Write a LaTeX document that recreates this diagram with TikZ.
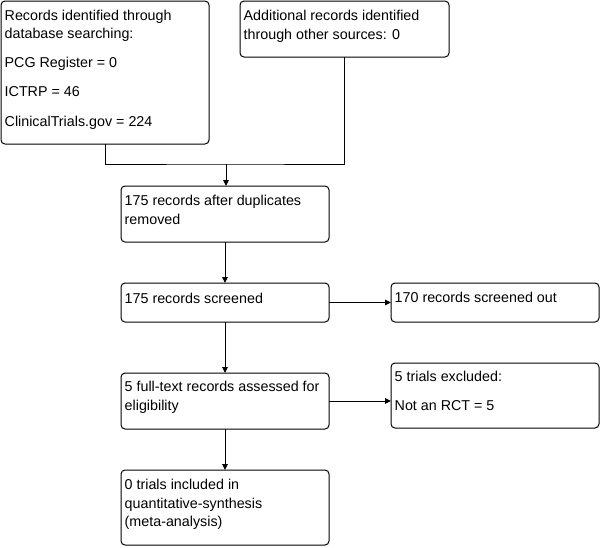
\documentclass[tikz,border=0pt]{standalone}
\usepackage{fontspec}
\setmainfont{Liberation Sans}
\usetikzlibrary{arrows.meta}
\begin{document}
\begin{tikzpicture}[x=1pt,y=-1pt,
  box/.style={draw, rounded corners=4pt, line width=1pt, inner sep=0pt, outer sep=0pt, anchor=north west},
  txt/.style={anchor=base west, inner sep=0pt, align=left, font=\fontsize{14.3}{18.6}\selectfont},
  arr/.style={-{Triangle[length=6pt,width=5.5pt]}, line width=1pt},
  ln/.style={line width=1pt}]
\useasboundingbox (0,0) rectangle (602,547);
% boxes
\node[box, minimum width=208pt, minimum height=143pt] (A) at (1,1) {};
\node[box, minimum width=209pt, minimum height=56pt] (B) at (240,1) {};
\node[box, minimum width=208pt, minimum height=56pt] (C) at (121,186) {};
\node[box, minimum width=208pt, minimum height=39pt] (D) at (121,283) {};
\node[box, minimum width=208pt, minimum height=39pt] (E) at (391,283) {};
\node[box, minimum width=208pt, minimum height=56pt] (F) at (121,373) {};
\node[box, minimum width=208pt, minimum height=65pt] (G) at (391,363) {};
\node[box, minimum width=208pt, minimum height=75pt] (H) at (121,470) {};
% texts (anchored at the baseline of their last line)
\node[txt] (tA) at (4.5,126) {Records identified through\\database searching:\\[10.5pt]PCG Register = 0\\[10.5pt]ICTRP = 46\\[10.5pt]ClinicalTrials.gov = 224};
\node[txt] (tB) at (243.5,39) {Additional records identified\\through other sources: 0};
\node[txt] (tC) at (124.5,224) {175 records after duplicates\\removed};
\node[txt] (tD) at (124.5,303) {175 records screened};
\node[txt] (tE) at (394.5,302.5) {170 records screened out};
\node[txt] (tF) at (124.5,410) {5 full-text records assessed for\\eligibility};
\node[txt] (tG) at (394.5,410) {5 trials excluded:\\[10pt]Not an RCT = 5};
\node[txt] (tH) at (124.5,526.7) {0 trials included in\\quantitative-synthesis\\(meta-analysis)};
% connectors
\coordinate (J) at (226,164);
\draw[ln] (A.south) |- (J) -| (B.south);
\draw[arr] (J) -- (J |- C.north);
\draw[arr] (C.south) -- (D.north);
\draw[arr] (D.east) -- (E.west);
\draw[arr] (D.south) -- (F.north);
\draw[arr] (F.east) -- (F.east -| G.west);
\draw[arr] (F.south) -- (H.north);
\end{tikzpicture}
\end{document}
